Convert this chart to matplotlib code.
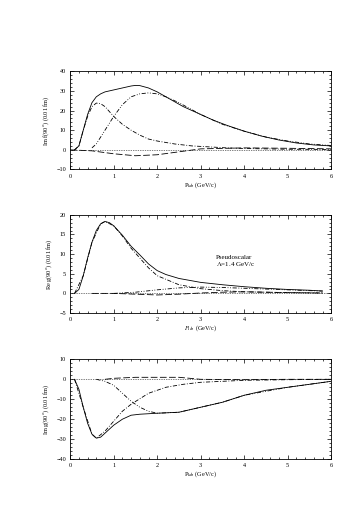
import numpy as np
import matplotlib
matplotlib.use("Agg")
import matplotlib.pyplot as plt
from matplotlib.ticker import MultipleLocator

plt.rcParams['font.family'] = ['Liberation Serif', 'DejaVu Serif']
plt.rcParams['mathtext.fontset'] = 'stix'

# panel 1: Im f(90)
p1_tot_x = [0.1, 0.2, 0.3, 0.4, 0.5, 0.6, 0.7, 0.8, 1.0, 1.2, 1.4, 1.5, 1.6, 1.8, 2.0, 2.2,
            2.4, 2.6, 2.8, 3.0, 3.3, 3.6, 4.0, 4.4, 4.8, 5.2, 5.6, 6.0]
p1_tot_y = [0, 2, 10, 18, 24, 27, 28.5, 29.5, 30.5, 31.5, 32.5, 32.8, 32.7, 31.5, 29.5, 27,
            24.5, 22, 20, 18, 15, 12.5, 9.5, 7, 5, 3.5, 2.5, 2]
p1_a_x = [0.1, 0.2, 0.3, 0.4, 0.5, 0.6, 0.7, 0.8, 1.0, 1.2, 1.4, 1.6, 1.8, 2.0, 2.4, 2.8,
          3.2, 3.6, 4.0, 5.0, 6.0]
p1_a_y = [0, 2, 10, 17, 22, 23.8, 23.5, 22, 17, 13, 10, 7.5, 5.5, 4.5, 3, 2, 1.5, 1, 0.7, 0.3, 0.2]
p1_b_x = [0.5, 0.6, 0.8, 1.0, 1.2, 1.4, 1.6, 1.8, 2.0, 2.2, 2.5, 3.0, 3.5, 4.0, 4.5, 5.0, 5.5, 6.0]
p1_b_y = [1, 3, 10, 17, 23, 27, 28.5, 29, 28.5, 27, 24, 18, 13, 9.5, 6.5, 4.5, 3, 2.2]
p1_c_x = [0, 0.5, 1.0, 1.5, 2.0, 2.5, 3.0, 4.0, 5.0, 6.0]
p1_c_y = [0, -0.5, -2, -3, -2.5, -1, 0.5, 1, 0.8, 0.5]

# panel 2: Re g(90)
p2_tot_x = [0.1, 0.2, 0.3, 0.4, 0.5, 0.6, 0.7, 0.8, 0.9, 1.0, 1.2, 1.4, 1.6, 1.8, 2.0, 2.2,
            2.5, 3.0, 3.5, 4.0, 4.5, 5.0, 5.5, 5.8]
p2_tot_y = [0, 1, 4.5, 9, 13, 16, 17.7, 18.3, 18, 17.2, 14.8, 12, 9.8, 7.5, 5.8, 4.8,
            3.8, 2.8, 2.2, 1.7, 1.3, 1.0, 0.8, 0.6]
p2_a_x = [0.1, 0.3, 0.5, 0.7, 0.8, 1.0, 1.2, 1.4, 1.6, 1.8, 2.0, 2.5, 3.0, 3.5, 4.0, 5.0, 5.8]
p2_a_y = [0, 4.5, 13, 17.7, 18.3, 17.2, 14.6, 11.5, 9, 6.5, 4.5, 2.2, 1.2, 0.7, 0.4, 0.2, 0.1]
p2_b_x = [1.0, 1.5, 2.0, 2.5, 3.0, 3.5, 4.0, 4.5, 5.0, 5.5, 5.8]
p2_b_y = [0, 0.3, 0.9, 1.4, 1.6, 1.5, 1.3, 1.1, 0.9, 0.7, 0.6]
p2_c_x = [0.5, 1.0, 1.5, 2.0, 2.5, 3.0, 3.5, 4.0, 5.0, 5.8]
p2_c_y = [0, 0, -0.2, -0.4, -0.2, 0.1, 0.3, 0.4, 0.2, 0.1]

# panel 3: Im g(90)
p3_tot_x = [0.1, 0.2, 0.3, 0.4, 0.5, 0.6, 0.7, 0.8, 1.0, 1.2, 1.4, 1.6, 2.0, 2.5, 3.0,
            3.5, 4.0, 4.5, 5.0, 5.5, 6.0]
p3_tot_y = [0, -5, -14, -22, -27.5, -29.5, -29, -27, -23, -20, -18, -17.5, -17, -16.5, -14,
            -11.5, -8, -5.5, -4, -2.5, -1]
p3_a_x = [0.1, 0.3, 0.5, 0.6, 0.8, 1.0, 1.2, 1.4, 1.8, 2.2, 2.6, 3.0, 4.0, 5.0, 6.0]
p3_a_y = [0, -14, -27.5, -29.5, -26, -21, -16, -12.5, -7, -4, -2.5, -1.5, -0.5, -0.2, 0]
p3_b_x = [0.6, 0.8, 1.0, 1.2, 1.4, 1.6, 1.8, 2.0, 2.5, 3.0, 3.5, 4.0, 5.0, 6.0]
p3_b_y = [0, -1, -3, -7, -11, -14, -16, -17, -16.5, -14, -11.5, -8, -4, -1]
p3_c_x = [0.8, 1.0, 1.5, 2.0, 2.5, 3.0, 4.0, 5.0, 6.0]
p3_c_y = [0, 0.5, 1, 1, 1, 0, -0.2, 0, 0]

ylabels = ["Im f(90$^o$) (0.01 fm)", "Re g(90$^o$) (0.01 fm)", "Im g(90$^o$) (0.01 fm)"]
xlabels = ["P$_{\\rm lab}$ (GeV/c)", "$P_{\\rm lab}$ (GeV/c)", "P$_{\\rm lab}$ (GeV/c)"]
ylims = [(-10, 40), (-5, 20), (-40, 10)]
ymajor = [10, 5, 10]

fig = plt.figure(figsize=(3.6, 5.09), dpi=100)
boxes = [[0.195, 0.667, 0.725, 0.193],
         [0.195, 0.385, 0.725, 0.193],
         [0.195, 0.098, 0.725, 0.196]]
axs = [fig.add_axes(b) for b in boxes]

lw = 0.6
dashdot = (0, (5, 2, 1, 2))
dashdotdot = (0, (5, 2, 1, 2, 1, 2))
longdash = (0, (8, 3))

data = [
    [(p1_tot_x, p1_tot_y, '-'), (p1_a_x, p1_a_y, dashdot), (p1_b_x, p1_b_y, dashdotdot),
     (p1_c_x, p1_c_y, longdash)],
    [(p2_tot_x, p2_tot_y, '-'), (p2_a_x, p2_a_y, dashdot), (p2_b_x, p2_b_y, dashdotdot),
     (p2_c_x, p2_c_y, longdash)],
    [(p3_tot_x, p3_tot_y, '-'), (p3_a_x, p3_a_y, dashdot), (p3_b_x, p3_b_y, dashdotdot),
     (p3_c_x, p3_c_y, longdash)],
]

for i, ax in enumerate(axs):
    for x, y, ls in data[i]:
        ax.plot(x, y, color='black', lw=lw, linestyle=ls)
    ax.axhline(0, color='black', lw=0.5, linestyle=(0, (1, 1.5)))
    ax.set_xlim(0, 6)
    ax.set_ylim(*ylims[i])
    ax.xaxis.set_major_locator(MultipleLocator(1))
    ax.xaxis.set_minor_locator(MultipleLocator(0.2))
    ax.yaxis.set_major_locator(MultipleLocator(ymajor[i]))
    ax.yaxis.set_minor_locator(MultipleLocator(ymajor[i] / 5))
    ax.tick_params(which='both', direction='in', top=True, right=True, labelsize=4.5,
                   width=0.5, pad=3)
    ax.tick_params(which='major', length=3)
    ax.tick_params(which='minor', length=1.5)
    for s in ax.spines.values():
        s.set_linewidth(0.6)
    ax.set_ylabel(ylabels[i], fontsize=4.5, labelpad=4)
    ax.set_xlabel(xlabels[i], fontsize=4.5, labelpad=1)

axs[1].text(3.35, 8.8, "Pseudoscalar", fontsize=5)
axs[1].text(3.35, 7.0, "$\\Lambda$=1.4 GeV/c", fontsize=5)

fig.savefig("out.png", dpi=100)
